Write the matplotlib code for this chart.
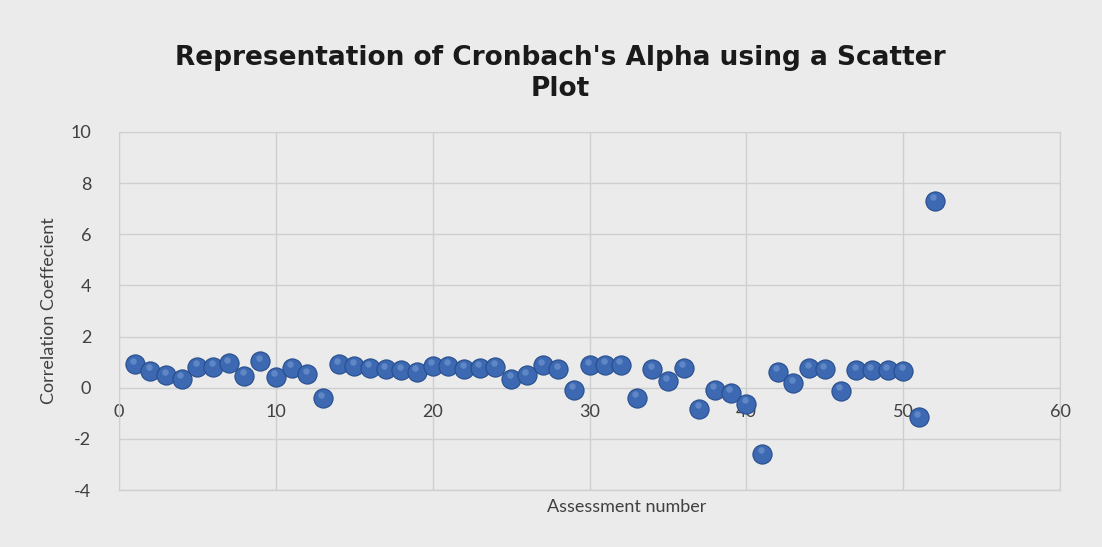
import numpy as np
import matplotlib.pyplot as plt

plt.rcParams['axes.unicode_minus'] = False

# assessment numbers and Cronbach's alpha values
assessment = list(range(1, 53))
alpha = [0.92, 0.66, 0.49, 0.36, 0.82, 0.82, 0.96, 0.46, 1.03, 0.42,
         0.79, 0.53, -0.42, 0.92, 0.86, 0.79, 0.72, 0.68, 0.63, 0.86,
         0.86, 0.75, 0.78, 0.83, 0.36, 0.49, 0.88, 0.72, -0.07, 0.88,
         0.90, 0.90, -0.40, 0.72, 0.26, 0.78, -0.82, -0.07, -0.20, -0.62,
         -2.57, 0.62, 0.17, 0.76, 0.72, -0.11, 0.68, 0.68, 0.68, 0.66,
         -1.16, 7.31]
xticks = [0, 10, 20, 30, 40, 50, 60]
yticks = [-4, -2, 0, 2, 4, 6, 8, 10]

bg = '#ebebeb'
grid = '#cfcfcf'
txt = '#404040'

fig = plt.figure(figsize=(11.02, 5.47), dpi=100, facecolor=bg)
ax = fig.add_axes([0.108, 0.104, 0.854, 0.655], facecolor=bg)

ax.scatter(assessment, alpha, s=190, color='#3c69b2', edgecolor='#274d8c',
           linewidth=0.8, zorder=3)
# small highlight to mimic the 3d bubbles
ax.scatter(np.array(assessment) - 0.1, np.array(alpha) + 0.14, s=22,
           color='#7d9fd6', alpha=0.55, linewidth=0, zorder=4)

ax.set_xlim(0, 60)
ax.set_ylim(-4, 10)
ax.set_xticks(xticks)
ax.set_yticks(yticks)
ax.grid(True, color=grid, linewidth=1)
ax.set_axisbelow(True)

for side in ['top', 'right', 'left']:
    ax.spines[side].set_color(grid)
# Excel puts the x labels where the axis crosses y=0
ax.spines['bottom'].set_position(('data', 0))
ax.spines['bottom'].set_visible(False)
ax.plot([0, 60], [-4, -4], color=grid, linewidth=1, clip_on=False, zorder=1)

ax.tick_params(axis='both', length=0, labelsize=13, labelcolor=txt)
ax.tick_params(axis='x', pad=12)
ax.tick_params(axis='y', pad=20)
for lab in ax.get_xticklabels() + ax.get_yticklabels():
    lab.set_family('Lato')

ax.set_ylabel('Correlation Coeffecient', fontsize=13, color=txt, family='Lato',
              labelpad=10)
fig.text(0.569, 0.073, 'Assessment number', fontsize=13, color=txt,
         family='Lato', ha='center', va='center')

fig.text(0.508, 0.865, "Representation of Cronbach's Alpha using a Scatter\nPlot",
         fontsize=19, fontweight='bold', color='#1a1a1a', ha='center',
         va='center', linespacing=1.25)

fig.savefig('out.png', dpi=100, facecolor=bg)
